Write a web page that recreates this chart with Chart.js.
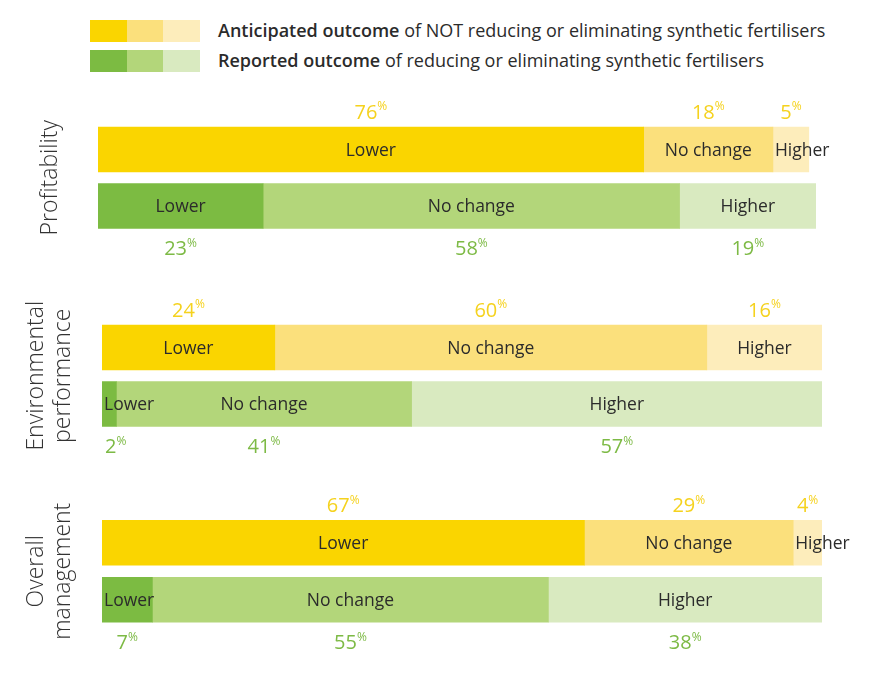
<!DOCTYPE html>
<html>
<head>
<meta charset="utf-8">
<script src="https://cdn.jsdelivr.net/npm/chart.js@4.4.1/dist/chart.umd.min.js"></script>
<style>
  html, body { margin:0; padding:0; background:#ffffff; }
  body { width:870px; height:680px; position:relative; overflow:hidden; font-family: "Open Sans", Lato, sans-serif; }
  canvas { position:absolute; left:0; }
  .lg { position:absolute; left:90px; height:22px; width:110px; display:flex; }
  .lg div { flex:1; height:22px; }
  .lgt { position:absolute; left:218px; font-size:18px; color:#2b2b2b; line-height:22px; white-space:nowrap; }
  .lgt b { font-weight:600; }
</style>
</head>
<body>
<div class="lg" style="top:20px"><div style="background:#FAD500"></div><div style="background:#FBE07C"></div><div style="background:#FDEDBB"></div></div>
<div class="lgt" style="top:19px"><b>Anticipated outcome</b> of NOT reducing or eliminating synthetic fertilisers</div>
<div class="lg" style="top:50px"><div style="background:#7CBB42"></div><div style="background:#B3D67A"></div><div style="background:#D9EAC0"></div></div>
<div class="lgt" style="top:49px"><b>Reported outcome</b> of reducing or eliminating synthetic fertilisers</div>

<canvas id="c0" width="870" height="160" style="top:100px"></canvas>
<canvas id="c1" width="870" height="170" style="top:290px"></canvas>
<canvas id="c2" width="870" height="200" style="top:480px"></canvas>

<script>
// ---- data ----
const groups = [['Profitability'], ['Environmental', 'performance'], ['Overall', 'management']];
const rows = ['Anticipated', 'Reported'];
const outcomes = ['Lower', 'No change', 'Higher'];
const anticipatedLower    = [76, 24, 67];
const anticipatedNoChange = [18, 60, 29];
const anticipatedHigher   = [5, 16, 4];
const reportedLower       = [23, 2, 7];
const reportedNoChange    = [58, 41, 55];
const reportedHigher      = [19, 57, 38];

// ---- styles ----
const yellowShades = ['#FAD500', '#FBE07C', '#FDEDBB'];
const greenShades  = ['#7CBB42', '#B3D67A', '#D9EAC0'];
const pctColors = ['#F5D21E', '#7DBA45'];
const FONT = '"Open Sans", Lato, sans-serif';

const layouts = [
  { id: 'c0', padding: { left: 98, right: 54, top: 21.25, bottom: 25.75 } },
  { id: 'c1', padding: { left: 102, right: 48, top: 29.25, bottom: 27.75 } },
  { id: 'c2', padding: { left: 102, right: 48, top: 34.25, bottom: 51.75 } }
];

const labelPlugin = {
  id: 'segLabels',
  afterDatasetsDraw(chart, args, opts) {
    const ctx = chart.ctx;
    const area = chart.chartArea;
    ctx.save();
    chart.data.datasets.forEach((ds, di) => {
      const meta = chart.getDatasetMeta(di);
      meta.data.forEach((bar, ri) => {
        const p = bar.getProps(['x', 'y', 'base', 'height'], true);
        const x0 = Math.min(p.x, p.base), x1 = Math.max(p.x, p.base);
        const w = x1 - x0;
        // segment name
        ctx.font = '17.5px ' + FONT;
        ctx.fillStyle = '#2b2b2b';
        ctx.textBaseline = 'middle';
        const tw = ctx.measureText(ds.label).width;
        if (tw + 6 > w) {
          ctx.textAlign = 'left';
          ctx.fillText(ds.label, x0 + 2, p.y + 1.5);
        } else {
          ctx.textAlign = 'center';
          ctx.fillText(ds.label, (x0 + x1) / 2, p.y + 1.5);
        }
        // percentage
        const num = String(ds.data[ri]);
        ctx.font = '20px ' + FONT;
        const nw = ctx.measureText(num).width;
        ctx.font = '12px ' + FONT;
        const sw = ctx.measureText('%').width;
        let left = (x0 + x1) / 2 - (nw + sw) / 2;
        if (left < area.left + 3) left = area.left + 3;
        const cy = ri === 0 ? p.y - p.height / 2 - 14 : p.y + p.height / 2 + 21;
        ctx.fillStyle = pctColors[ri];
        ctx.textAlign = 'left';
        ctx.font = '20px ' + FONT;
        ctx.fillText(num, left, cy);
        ctx.font = '12px ' + FONT;
        ctx.fillText('%', left + nw, cy - 6);
      });
    });
    // group title (rotated)
    const lines = opts.title;
    const cy = (area.top + area.bottom) / 2;
    ctx.font = '300 23px ' + FONT;
    ctx.fillStyle = '#333333';
    ctx.textAlign = 'center';
    ctx.textBaseline = 'middle';
    const cx = 50;
    ctx.translate(cx, cy);
    ctx.rotate(-Math.PI / 2);
    lines.forEach((ln, k) => {
      ctx.fillText(ln, 0, (k - (lines.length - 1) / 2) * 27);
    });
    ctx.restore();
  }
};

const seriesByGroup = (i) => [
  [anticipatedLower[i], reportedLower[i]],
  [anticipatedNoChange[i], reportedNoChange[i]],
  [anticipatedHigher[i], reportedHigher[i]]
];

layouts.forEach((lay, i) => {
  const series = seriesByGroup(i);
  new Chart(document.getElementById(lay.id), {
    type: 'bar',
    data: {
      labels: rows,
      datasets: outcomes.map((o, k) => ({
        label: o,
        data: series[k],
        backgroundColor: [yellowShades[k], greenShades[k]],
        borderWidth: 0,
        barThickness: 45
      }))
    },
    options: {
      indexAxis: 'y',
      responsive: false,
      animation: false,
      layout: { padding: lay.padding },
      scales: {
        x: { stacked: true, min: 0, max: 100, display: false },
        y: { stacked: true, display: false }
      },
      plugins: {
        legend: { display: false },
        tooltip: { enabled: false },
        segLabels: { title: groups[i] }
      }
    },
    plugins: [labelPlugin]
  });
});
</script>
</body>
</html>
